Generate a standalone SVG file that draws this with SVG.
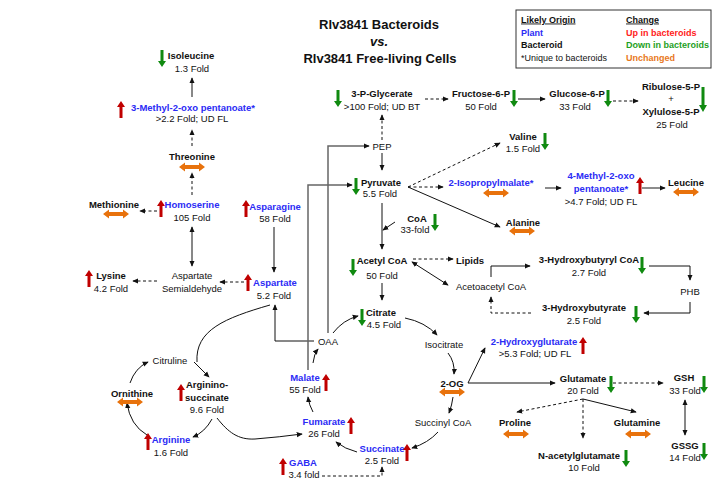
<svg xmlns="http://www.w3.org/2000/svg" xmlns:xlink="http://www.w3.org/1999/xlink" width="718" height="481" viewBox="0 0 718 481">
<style>
text{font-family:"Liberation Sans",Arial,sans-serif;font-size:9.5px;fill:#111;text-anchor:middle}
.b{font-weight:bold}
.p{font-weight:bold;fill:#2B2BF5}
.t{font-size:13px;font-weight:bold}
.lg{text-anchor:start;font-size:9px}
.c{fill:none;stroke:#111;stroke-width:1}
.d{stroke-dasharray:3,2.5}
.g{stroke:#666;stroke-width:1.5}
.up{fill:#C00000}
.dn{fill:#108A10}
.un{fill:#E8720C}
</style>
<defs>
<marker id="ah" viewBox="0 0 8 8" refX="7" refY="4" markerWidth="6" markerHeight="6" orient="auto-start-reverse" markerUnits="userSpaceOnUse"><path d="M0,0.5 L8,4 L0,7.5 Z" fill="#111"/></marker>
<path id="u" d="M-1.5,17 V6 H-4 L0,0 L4,6 H1.5 V17 Z"/>
<path id="dw" d="M-1.5,0 V11 H-4 L0,17 L4,11 H1.5 V0 Z"/>
<path id="dwl" d="M-1.5,0 V18 H-4 L0,25 L4,18 H1.5 V0 Z"/>
<path id="o" d="M-13,0 L-7,-4.5 V-2 H7 V-4.5 L13,0 L7,4.5 V2 H-7 V4.5 Z"/>
</defs>

<g id="title">
<text class="t" x="379" y="29">Rlv3841 Bacteroids</text>
<text class="t" x="379" y="46" font-style="italic">vs.</text>
<text class="t" x="380" y="63">Rlv3841 Free-living Cells</text>
</g>

<g id="legend">
<rect x="516" y="10" width="195" height="58" fill="#fff" stroke="#333" stroke-width="1"/>
<text class="lg b" x="521" y="22.5" text-decoration="underline">Likely Origin</text>
<text class="lg p" x="521" y="35.5">Plant</text>
<text class="lg b" x="521" y="48">Bacteroid</text>
<text class="lg" x="521" y="60.5">*Unique to bacteroids</text>
<text class="lg b" x="626" y="22.5" text-decoration="underline">Change</text>
<text class="lg b" x="626" y="35.5" style="fill:#FF2020">Up in bacteroids</text>
<text class="lg b" x="626" y="48" style="fill:#1EA01E">Down in bacteroids</text>
<text class="lg b" x="626" y="60.5" style="fill:#E8771C">Unchanged</text>
</g>

<g id="connectors">
<path class="c" d="M192,97 V78" marker-end="url(#ah)"/>
<path class="c d" d="M192,146 V130" marker-end="url(#ah)"/>
<path class="c d" d="M192,195 V173" marker-end="url(#ah)"/>
<path class="c" d="M192,227 V266" marker-start="url(#ah)" marker-end="url(#ah)"/>
<path class="c d" d="M157,211 H140" marker-end="url(#ah)"/>
<path class="c d" d="M157,281 H133" marker-end="url(#ah)"/>
<path class="c d" d="M244,282 H220" marker-end="url(#ah)"/>
<path class="c" d="M274,227 V272" marker-end="url(#ah)"/>
<path class="c" d="M314,341 H275 V305" marker-end="url(#ah)"/>
<path class="c g" d="M328,333 V146 H369" marker-end="url(#ah)"/>
<path class="c g" d="M308,370 V185 H352" marker-end="url(#ah)"/>
<path class="c" d="M382,153 V170" marker-end="url(#ah)"/>
<path class="c d" d="M382,140 V115" marker-end="url(#ah)"/>
<path class="c d" d="M425,99 H448" marker-end="url(#ah)"/>
<path class="c" d="M518,99 H545" marker-end="url(#ah)"/>
<path class="c d" d="M613,101 H638" marker-end="url(#ah)"/>
<path class="c d" d="M408,187 L500,143" marker-end="url(#ah)"/>
<path class="c d" d="M408,187 H443" marker-end="url(#ah)"/>
<path class="c" d="M408,187 L500,227" marker-end="url(#ah)"/>
<path class="c g" d="M545,188 H561" marker-end="url(#ah)"/>
<path class="c g" d="M642,188 H665" marker-end="url(#ah)"/>
<path class="c" d="M382,203 V249" marker-end="url(#ah)"/>
<path class="c" d="M395,222 L383,230" marker-end="url(#ah)"/>
<path class="c" d="M382,283 V300" marker-end="url(#ah)"/>
<path class="c d" d="M413,259 H453" marker-end="url(#ah)"/>
<path class="c" d="M412,262 L448,285" marker-start="url(#ah)" marker-end="url(#ah)"/>
<path class="c" d="M491,277 V266 H530" marker-end="url(#ah)"/>
<path class="c" d="M649,266 H690 V280" marker-end="url(#ah)"/>
<path class="c" d="M690,302 V313 H644" marker-end="url(#ah)"/>
<path class="c d" d="M531,313 H491 V297" marker-end="url(#ah)"/>
<path class="c" d="M333,333 Q343,320 358,316" marker-end="url(#ah)"/>
<path class="c" d="M405,318 Q425,322 437,335" marker-end="url(#ah)"/>
<path class="c" d="M448,353 Q455,362 454,374" marker-end="url(#ah)"/>
<path class="c" d="M453,397 Q452,405 449,413" marker-end="url(#ah)"/>
<path class="c" d="M438,432 Q428,443 412,448" marker-end="url(#ah)"/>
<path class="c" d="M357,452 Q345,449 336,442" marker-end="url(#ah)"/>
<path class="c" d="M313,412 Q309,405 308,397" marker-end="url(#ah)"/>
<path class="c" d="M313,363 Q314,354 318,349" marker-end="url(#ah)"/>
<path class="c" d="M468,383 L485,348" marker-end="url(#ah)"/>
<path class="c" d="M468,383 H555" marker-end="url(#ah)"/>
<path class="c d" d="M613,383 H663" marker-end="url(#ah)"/>
<path class="c" d="M685,400 V435" marker-start="url(#ah)" marker-end="url(#ah)"/>
<path class="c d" d="M583,399 L517,412" marker-end="url(#ah)"/>
<path class="c d" d="M583,399 V438" marker-end="url(#ah)"/>
<path class="c" d="M583,399 L636,412" marker-end="url(#ah)"/>
<path class="c d" d="M322,476 H382 V467" marker-end="url(#ah)"/>
<path class="c" d="M270,305 C225,318 195,330 197,362"/>
<path class="c" d="M194,362 L209,377" marker-end="url(#ah)"/>
<path class="c" d="M130,383 Q135,368 148,362" marker-end="url(#ah)"/>
<path class="c" d="M147,435 Q130,425 127,403" marker-end="url(#ah)"/>
<path class="c" d="M212,419 Q205,432 193,437" marker-end="url(#ah)"/>
<path class="c" d="M217,418 C228,432 238,440 255,439 Q280,437 302,434" marker-end="url(#ah)"/>
</g>

<g id="isoleucine"><use xlink:href="#dw" class="dn" x="162" y="50"/><text class="b" x="191" y="58.5">Isoleucine</text><text x="192" y="71.5">1.3 Fold</text></g>
<g id="methyl-oxo-pentanoate"><use xlink:href="#u" class="up" x="121" y="101"/><text class="p" x="193" y="110.5">3-Methyl-2-oxo pentanoate*</text><text x="192" y="121.5">&gt;2.2 Fold; UD FL</text></g>
<g id="threonine"><text class="b" x="192" y="159.5">Threonine</text><use xlink:href="#o" class="un" x="192" y="167"/></g>
<g id="methionine"><text class="b" x="114" y="207.5">Methionine</text><use xlink:href="#o" class="un" x="116" y="214"/></g>
<g id="homoserine"><use xlink:href="#u" class="up" x="161" y="200"/><text class="p" x="192" y="207.5">Homoserine</text><text x="192" y="220.5">105 Fold</text></g>
<g id="aspartate-semialdehyde"><text x="192" y="278.5">Aspartate</text><text x="192" y="291.5">Semialdehyde</text></g>
<g id="lysine"><use xlink:href="#u" class="up" x="89" y="270"/><text class="b" x="111" y="278.5">Lysine</text><text x="111" y="291.5">4.2 Fold</text></g>
<g id="asparagine"><use xlink:href="#u" class="up" x="246" y="200"/><text class="p" x="275" y="209.5">Asparagine</text><text x="275" y="221.5">58 Fold</text></g>
<g id="aspartate"><use xlink:href="#u" class="up" x="248" y="274"/><text class="p" x="275" y="285.5">Aspartate</text><text x="274" y="298.5">5.2 Fold</text></g>
<g id="p-glycerate"><use xlink:href="#dw" class="dn" x="338" y="90"/><text class="b" x="382" y="96.5">3-P-Glycerate</text><text x="382" y="109.5">&gt;100 Fold; UD BT</text></g>
<g id="pep"><text x="382" y="149.5">PEP</text></g>
<g id="fructose-6-p"><text class="b" x="481" y="96.5">Fructose-6-P</text><text x="481" y="109.5">50 Fold</text><use xlink:href="#dw" class="dn" x="514" y="90"/></g>
<g id="glucose-6-p"><text class="b" x="577" y="96.5">Glucose-6-P</text><text x="575" y="109.5">33 Fold</text><use xlink:href="#dw" class="dn" x="608" y="90"/></g>
<g id="ribulose-xylulose"><text class="b" x="671" y="89.5">Ribulose-5-P</text><text x="671" y="102">+</text><text class="b" x="671" y="114.5">Xylulose-5-P</text><text x="672" y="127.5">25 Fold</text><use xlink:href="#dwl" class="dn" x="703" y="87"/></g>
<g id="valine"><text class="b" x="523" y="139.5">Valine</text><text x="523" y="151.5">1.5 Fold</text><use xlink:href="#dw" class="dn" x="545" y="133"/></g>
<g id="pyruvate"><use xlink:href="#dw" class="dn" x="356" y="178"/><text class="b" x="381" y="185.5">Pyruvate</text><text x="380" y="196.5">5.5 Fold</text></g>
<g id="isopropylmalate"><text class="p" x="491" y="185.5">2-Isopropylmalate*</text><use xlink:href="#o" class="un" x="496" y="193"/></g>
<g id="methyl-oxo-pentanoate-4"><text class="p" x="601" y="178.5">4-Methyl-2-oxo</text><text class="p" x="601" y="191.5">pentanoate*</text><text x="601" y="204.5">&gt;4.7 Fold; UD FL</text><use xlink:href="#u" class="up" x="640" y="177"/></g>
<g id="leucine"><text class="b" x="686" y="185.5">Leucine</text><use xlink:href="#o" class="un" x="686" y="192"/></g>
<g id="alanine"><text class="b" x="523" y="225.5">Alanine</text><use xlink:href="#o" class="un" x="522" y="231"/></g>
<g id="coa"><text class="b" x="417" y="221.5">CoA</text><text x="415" y="232.5">33-fold</text><use xlink:href="#dw" class="dn" x="435" y="214"/></g>
<g id="acetyl-coa"><use xlink:href="#dw" class="dn" x="353" y="259"/><text class="b" x="382" y="263.5">Acetyl CoA</text><text x="382" y="278.5">50 Fold</text></g>
<g id="lipids"><text class="b" x="470" y="263.5">Lipids</text></g>
<g id="acetoacetyl-coa"><text x="491" y="289.5">Acetoacetyl CoA</text></g>
<g id="hydroxybutyryl-coa"><text class="b" x="589" y="262.5">3-Hydroxybutyryl CoA</text><text x="589" y="275.5">2.7 Fold</text><use xlink:href="#dw" class="dn" x="642" y="257"/></g>
<g id="phb"><text x="690" y="294.5">PHB</text></g>
<g id="hydroxybutyrate"><text class="b" x="584" y="310.5">3-Hydroxybutyrate</text><text x="584" y="323.5">2.5 Fold</text><use xlink:href="#dw" class="dn" x="636" y="306"/></g>
<g id="citrate"><use xlink:href="#dw" class="dn" x="362" y="309"/><text class="b" x="381" y="315.5">Citrate</text><text x="384" y="327.5">4.5 Fold</text></g>
<g id="oaa"><text x="328" y="344.5">OAA</text></g>
<g id="isocitrate"><text x="444" y="347.5">Isocitrate</text></g>
<g id="hydroxyglutarate"><text class="p" x="534" y="344.5">2-Hydroxyglutarate</text><text x="535" y="356.5">&gt;5.3 Fold; UD FL</text><use xlink:href="#u" class="up" x="583" y="337"/></g>
<g id="two-og"><text class="b" x="452" y="386.5">2-OG</text><use xlink:href="#o" class="un" x="452" y="392"/></g>
<g id="glutamate"><text class="b" x="583" y="381.5">Glutamate</text><text x="583" y="393.5">20 Fold</text><use xlink:href="#dw" class="dn" x="611" y="376"/></g>
<g id="gsh"><text class="b" x="684" y="380.5">GSH</text><text x="685" y="393.5">33 Fold</text><use xlink:href="#dw" class="dn" x="704" y="376"/></g>
<g id="gssg"><text class="b" x="685" y="448.5">GSSG</text><text x="685" y="460.5">14 Fold</text><use xlink:href="#dw" class="dn" x="704" y="443"/></g>
<g id="proline"><text class="b" x="515" y="425.5">Proline</text><use xlink:href="#o" class="un" x="516" y="434"/></g>
<g id="glutamine"><text class="b" x="637" y="425.5">Glutamine</text><use xlink:href="#o" class="un" x="638" y="434"/></g>
<g id="n-acetylglutamate"><text class="b" x="579" y="458.5">N-acetylglutamate</text><text x="584" y="470.5">10 Fold</text><use xlink:href="#dw" class="dn" x="626" y="450"/></g>
<g id="succinyl-coa"><text x="443" y="425.5">Succinyl CoA</text></g>
<g id="succinate"><text class="p" x="382" y="451.5">Succinate</text><text x="382" y="463.5">2.5 Fold</text><use xlink:href="#u" class="up" x="407" y="444"/></g>
<g id="fumarate"><text class="p" x="324" y="424.5">Fumarate</text><text x="324" y="436.5">26 Fold</text><use xlink:href="#u" class="up" x="351" y="417"/></g>
<g id="malate"><text class="p" x="305" y="380.5">Malate</text><text x="305" y="392.5">55 Fold</text><use xlink:href="#u" class="up" x="326" y="374"/></g>
<g id="gaba"><use xlink:href="#u" class="up" x="283" y="458"/><text class="p" x="303" y="465.5">GABA</text><text x="304" y="477.5">3.4 fold</text></g>
<g id="citruline"><text x="170" y="363.5">Citruline</text></g>
<g id="ornithine"><text class="b" x="132" y="396.5">Ornithine</text><use xlink:href="#o" class="un" x="130" y="402"/></g>
<g id="argininosuccinate"><use xlink:href="#u" class="up" x="181" y="384"/><text class="b" x="207" y="387.5">Arginino-</text><text class="b" x="207" y="400.5">succinate</text><text x="207" y="412.5">9.6 Fold</text></g>
<g id="arginine"><use xlink:href="#u" class="up" x="148" y="433"/><text class="p" x="171" y="442.5">Arginine</text><text x="171" y="455.5">1.6 Fold</text></g>
</svg>
